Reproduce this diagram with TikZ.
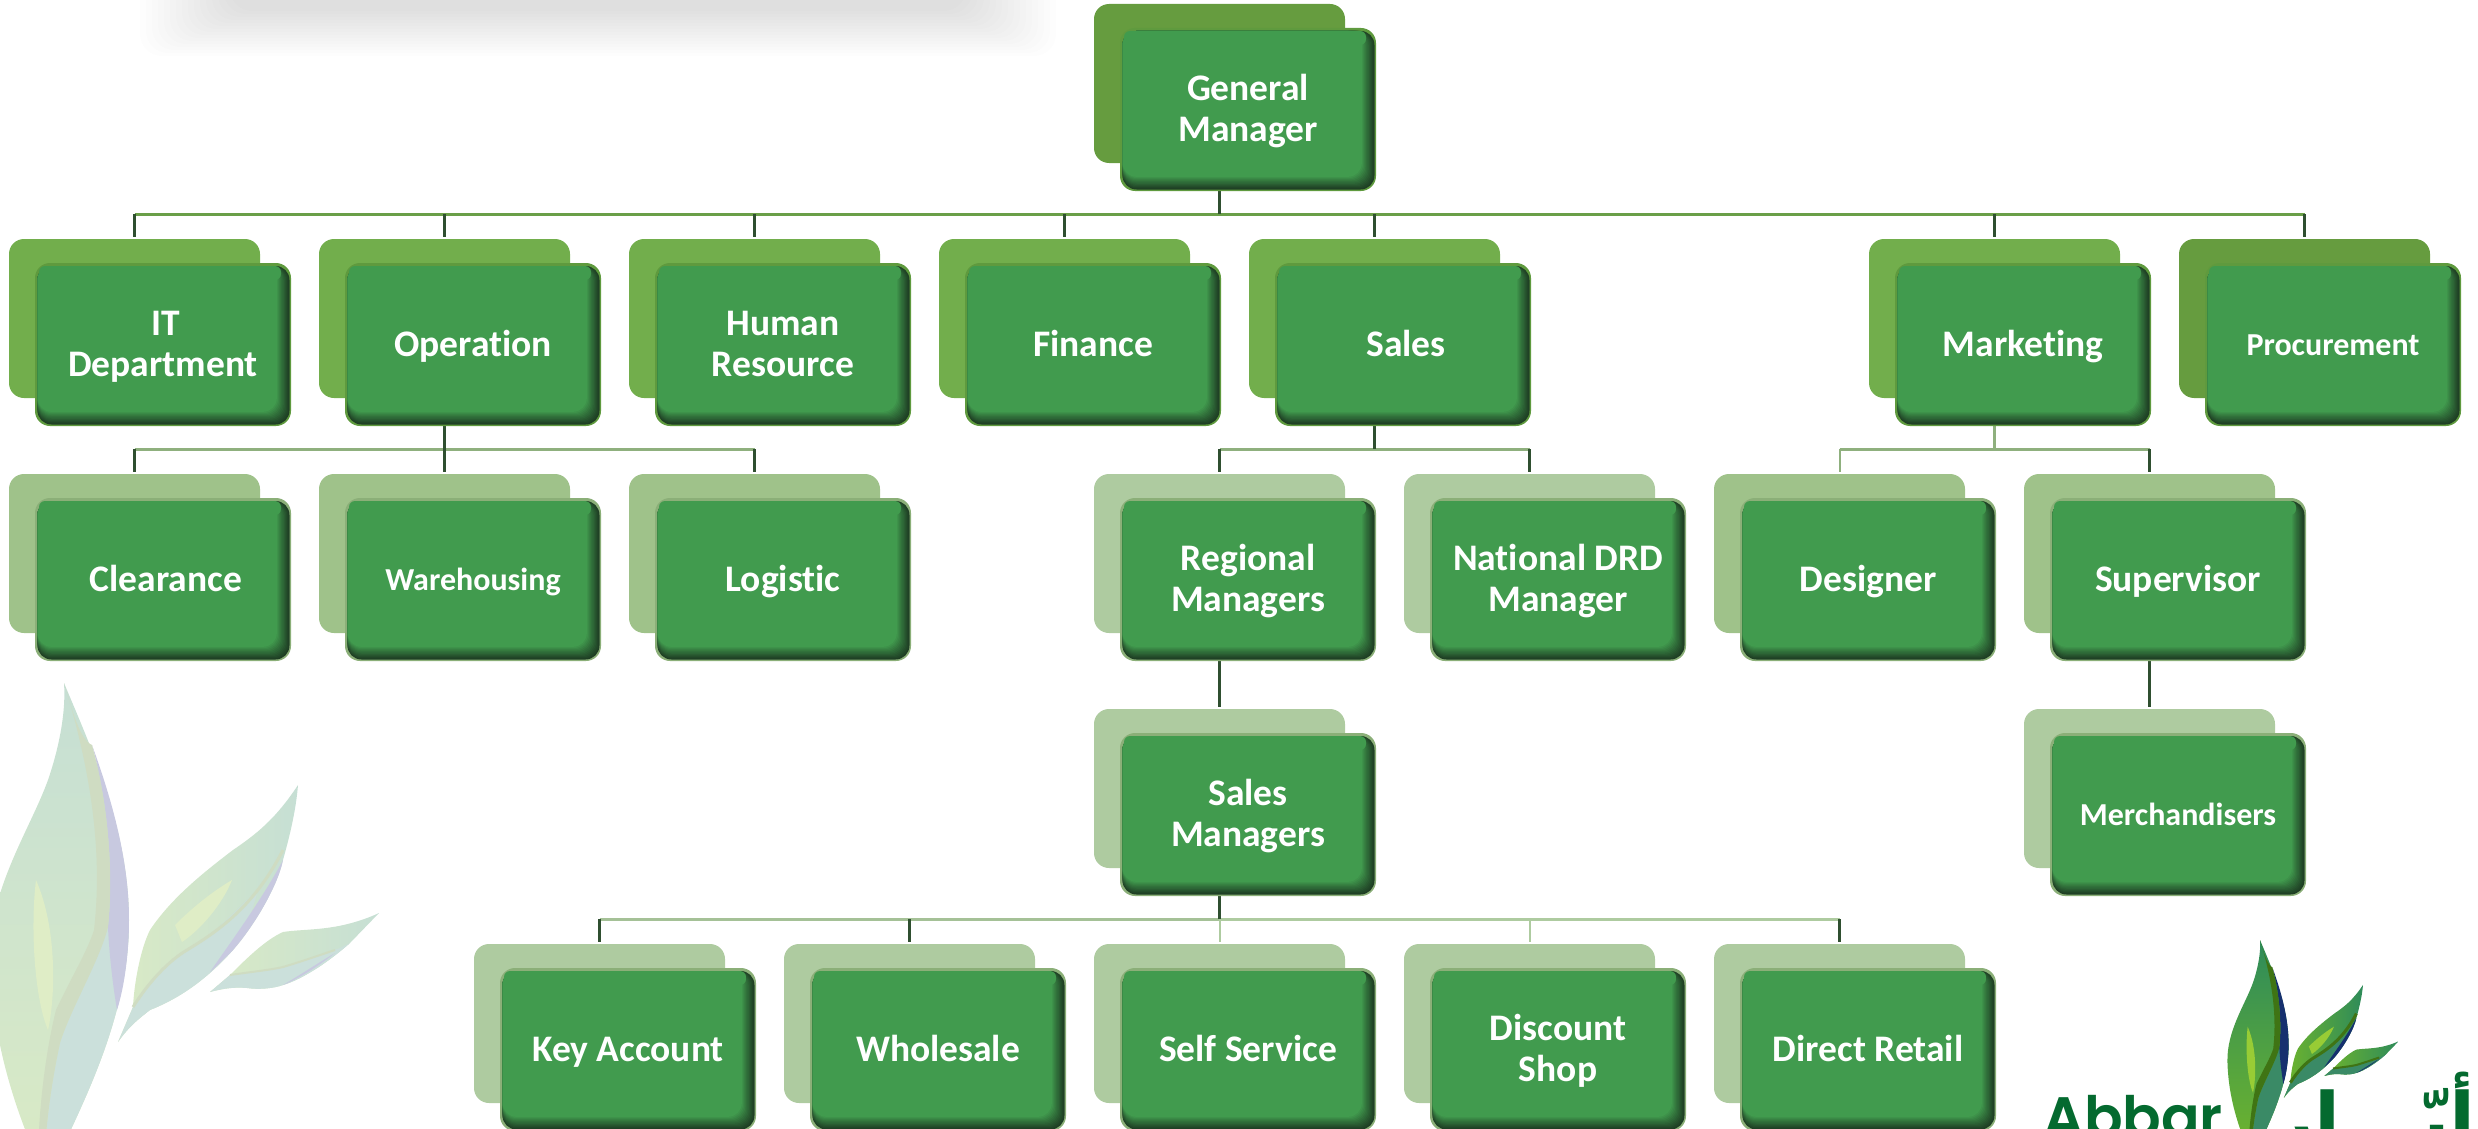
\documentclass[tikz,border=0pt]{standalone}
\usepackage{fontspec}
\setmainfont{Carlito}[Ligatures={NoCommon}]
\newfontfamily\logofont{Poppins}[UprightFont=* SemiBold,BoldFont=* SemiBold]
\newfontfamily\arabicfont[Script=Arabic]{DejaVu Sans}
\TeXXeTstate=1
\usetikzlibrary{backgrounds}
\definecolor{backA}{HTML}{669C3F}
\definecolor{backB}{HTML}{72AE4C}
\definecolor{backC}{HTML}{9FC28A}
\definecolor{backD}{HTML}{AECBA0}
\definecolor{rimA}{HTML}{5F9A3E}
\definecolor{rimB}{HTML}{8BAF78}
\definecolor{bevelbase}{HTML}{419B4E}
\definecolor{beveldark}{HTML}{1F3F24}
\definecolor{hilite}{HTML}{7AD68A}
\definecolor{hbusA}{HTML}{6A9F48}
\definecolor{hbusB}{HTML}{8FB07E}
\definecolor{hbusC}{HTML}{A5C197}
\definecolor{hbusD}{HTML}{AECBA0}
\definecolor{vdark}{HTML}{2F4F30}
\definecolor{logogreen}{HTML}{046A2F}
\newcommand{\fbig}{\fontsize{37.5}{41}\selectfont\bfseries}
\newcommand{\fsmall}{\fontsize{32}{38}\selectfont\bfseries}
\tikzset{
  x=1pt,y=-1pt,
  backbox/.style={anchor=north west,minimum width=251pt,minimum height=159pt,rounded corners=15pt,inner sep=0pt,outer sep=0pt,draw=none},
  frontbox/.style={anchor=north west,minimum width=256pt,minimum height=163pt,text=white,align=center,inner sep=0pt,outer sep=0pt,yshift=-3.5pt},
  hbus/.style={draw=#1,line width=3pt,line cap=butt},
  drop/.style={draw=vdark,line width=2.2pt,shorten >=2pt},
  lightdrop/.style={draw=#1,line width=2pt,shorten >=2pt},
}
\newcommand{\orgbox}[7]{%
  \node[backbox,fill=#4] (#1b) at (#2-26,#3-24) {};
  \fill[#5,rounded corners=15pt] (#2,#3) rectangle (#2+256,#3+163);
  \foreach \i in {0,...,11}{%
    \pgfmathsetmacro{\d}{1.5+\i*1.15}%
    \pgfmathsetmacro{\p}{100*(\i/11)^1.1}%
    \fill[bevelbase!\p!beveldark,rounded corners=14pt] (#2+2.5,#3+3) rectangle (#2+256-\d,#3+163-\d);
  }
  \shade[top color=bevelbase,middle color=hilite,bottom color=bevelbase,rounded corners=6pt] (#2+4,#3+3) rectangle (#2+256-10,#3+17);
  \node[frontbox,font=#6] (#1) at (#2,#3) {\strut #7\strut};
}
\newcommand{\leafset}{%
  % large leaf
  \shade[top color=lfTop,middle color=lfBase,bottom color=lfBase]
    (64,683) .. controls (66,710) and (60,745) .. (48,780) .. controls (30,830) and (-12,890) .. (-10,960)
    .. controls (-8,1040) and (15,1110) .. (40,1165) -- (54,1165)
    .. controls (90,1090) and (129,1010) .. (129,920) .. controls (129,830) and (90,745) .. (64,683) -- cycle;
  \fill[lfHi] (36,880) .. controls (30,930) and (35,1000) .. (48,1030) .. controls (55,1000) and (58,930) .. (36,880) -- cycle;
  \fill[lfLow] (107,927) .. controls (100,960) and (70,1010) .. (60,1043) .. controls (52,1080) and (46,1120) .. (44,1165)
    -- (54,1165) .. controls (90,1090) and (129,1010) .. (129,920) -- cycle;
  \fill[lfSliver] (92,745) .. controls (112,800) and (129,860) .. (129,920) .. controls (129,950) and (125,985) .. (117,1010)
    .. controls (112,980) and (109,950) .. (108,927) .. controls (113,880) and (110,810) .. (92,745) -- cycle;
  \fill[lfFold] (64,683) .. controls (72,710) and (80,740) .. (92,745) .. controls (110,810) and (113,880) .. (108,927)
    .. controls (100,960) and (70,1010) .. (60,1043) .. controls (52,1080) and (46,1120) .. (44,1165) -- (38,1165)
    .. controls (38,1110) and (46,1050) .. (56,1010) .. controls (70,980) and (88,950) .. (94,930)
    .. controls (102,860) and (94,780) .. (64,683) -- cycle;
  % middle leaf
  \shade[left color=lfBase,right color=lfTop]
    (298,785) .. controls (275,820) and (255,835) .. (233,850) .. controls (200,875) and (170,900) .. (150,930)
    .. controls (140,950) and (134,985) .. (133,1007) -- (118,1042) .. controls (130,1025) and (140,1018) .. (150,1010)
    .. controls (170,1002) and (200,987) .. (233,950) .. controls (255,925) and (278,885) .. (283,860) .. controls (290,835) and (296,810) .. (298,785) -- cycle;
  \fill[lfHi] (175,925) .. controls (195,905) and (215,890) .. (232,880) .. controls (222,905) and (200,930) .. (182,942) -- cycle;
  \fill[lfLow] (133,1007) .. controls (150,980) and (170,960) .. (187,950) .. controls (215,935) and (240,905) .. (258,890)
    .. controls (250,920) and (240,940) .. (233,950) .. controls (200,987) and (170,1002) .. (150,1010) .. controls (140,1018) and (130,1025) .. (118,1042) -- cycle;
  \fill[lfSliver] (283,860) .. controls (278,885) and (255,925) .. (233,950) .. controls (225,958) and (218,965) .. (210,972)
    .. controls (225,950) and (262,900) .. (283,860) -- cycle;
  \draw[lfFold,line width=3pt] (133,1007) .. controls (150,980) and (170,960) .. (187,950) .. controls (220,930) and (255,905) .. (283,850);
  % small leaf
  \shade[left color=lfBase,right color=lfTop]
    (379,913) .. controls (360,922) and (340,926) .. (333,927) .. controls (315,930) and (295,930) .. (283,932)
    .. controls (265,940) and (245,960) .. (230,975) -- (210,992) .. controls (225,988) and (235,987) .. (247,988)
    .. controls (260,990) and (275,988) .. (283,985) .. controls (300,980) and (325,965) .. (350,943) -- cycle;
  \fill[lfLow] (230,975) .. controls (250,972) and (270,970) .. (283,967) .. controls (300,962) and (320,955) .. (340,948)
    -- (350,943) .. controls (325,965) and (300,980) .. (283,985) .. controls (275,988) and (260,990) .. (247,988) .. controls (235,987) and (225,988) .. (210,992) -- cycle;
  \fill[lfSliver] (335,953) .. controls (320,965) and (300,978) .. (283,985) .. controls (300,975) and (315,965) .. (335,953) -- cycle;
  \draw[lfFold,line width=2pt] (230,975) .. controls (250,972) and (270,970) .. (283,967) .. controls (300,962) and (320,955) .. (335,950);
}
\begin{document}
\begin{tikzpicture}
\clip (0,0) rectangle (2478,1129);
% soft smear at the top
\foreach \i in {0,...,15}{%
  \fill[black,opacity=.007,rounded corners=22pt] (140+\i*6,-40) rectangle (1056-\i*6,56-\i*3);
}
% faded leaves
\definecolor{lfTop}{HTML}{C6DFD4}
\definecolor{lfBase}{HTML}{D9EAC5}
\definecolor{lfHi}{HTML}{DFEDC6}
\definecolor{lfLow}{HTML}{CBE0DB}
\definecolor{lfSliver}{HTML}{C8C9E0}
\definecolor{lfFold}{HTML}{CFDCC2}
\leafset
% logo leaves
\begin{scope}[shift={(2231.84,639.5)},scale=.44]
\definecolor{lfTop}{HTML}{2E8B5A}
\definecolor{lfBase}{HTML}{6FB52C}
\definecolor{lfHi}{HTML}{98CC35}
\definecolor{lfLow}{HTML}{3A8A66}
\definecolor{lfSliver}{HTML}{16306F}
\definecolor{lfFold}{HTML}{3F7414}
\leafset
\end{scope}
\node[anchor=base west,inner sep=0pt,text=logogreen,font=\fontsize{57}{57}\selectfont\logofont] (logoen) at (2043,1137) {Abbar};
\node[anchor=base east,inner sep=0pt,text=logogreen,font=\fontsize{76}{76}\selectfont\arabicfont\bfseries] (logoar) at (2476,1147) {\beginR أبّـــار\endR};
% boxes
\orgbox{gm}{1120}{28}{backA}{rimA}{\fbig}{General\\Manager}
\orgbox{it}{35}{263}{backB}{rimA}{\fbig}{\kern5pt IT\\Department}
\orgbox{op}{345}{263}{backB}{rimA}{\fbig}{Operation}
\orgbox{hr}{655}{263}{backB}{rimA}{\fbig}{Human\\Resource}
\orgbox{fi}{965}{263}{backB}{rimA}{\fbig}{Finance}
\orgbox{sa}{1275}{263}{backB}{rimA}{\fbig}{\kern6pt Sales}
\orgbox{ma}{1895}{263}{backB}{rimA}{\fbig}{Marketing}
\orgbox{pr}{2205}{263}{backA}{rimA}{\fsmall}{Procurement}
\orgbox{cl}{35}{498}{backC}{rimB}{\fbig}{\kern6pt Clearance}
\orgbox{wa}{345}{498}{backC}{rimB}{\fsmall}{Warehousing}
\orgbox{lo}{655}{498}{backC}{rimB}{\fbig}{Logistic}
\orgbox{re}{1120}{498}{backD}{rimB}{\fbig}{Regional\\Managers}
\orgbox{na}{1430}{498}{backD}{rimB}{\fbig}{National DRD\\Manager}
\orgbox{de}{1740}{498}{backC}{rimB}{\fbig}{Designer}
\orgbox{su}{2050}{498}{backC}{rimB}{\fbig}{Supervisor}
\orgbox{sm}{1120}{733}{backD}{rimB}{\fbig}{Sales\\Managers}
\orgbox{me}{2050}{733}{backD}{rimB}{\fsmall}{Merchandisers}
\orgbox{ka}{500}{968}{backD}{rimB}{\fbig}{Key Account}
\orgbox{wh}{810}{968}{backD}{rimB}{\fbig}{Wholesale}
\orgbox{ss}{1120}{968}{backD}{rimB}{\fbig}{Self Service}
\orgbox{ds}{1430}{968}{backD}{rimB}{\fbig}{Discount\\Shop}
\orgbox{dr}{1740}{968}{backD}{rimB}{\fbig}{Direct Retail}
% connectors
\coordinate (busgm) at (1219.5,214);
\coordinate (busop) at (444.5,449);
\coordinate (bussa) at (1374.5,449);
\coordinate (busma) at (1994.5,449);
\coordinate (bussm) at (1219.5,919);
\begin{scope}[on background layer]
  \draw[hbus=hbusA] (itb.north |- busgm) -- (prb.north |- busgm);
  \draw[drop,shorten >=0pt] (gmb) -- (busgm);
  \foreach \c in {it,op,hr,fi,sa,ma,pr}{\draw[drop] (\c b.north |- busgm) -- (\c b.north);}
  \draw[hbus=hbusB] (clb.north |- busop) -- (lob.north |- busop);
  \draw[drop,shorten >=0pt] (opb) -- (busop);
  \foreach \c in {cl,wa,lo}{\draw[drop] (\c b.north |- busop) -- (\c b.north);}
  \draw[hbus=hbusB] (reb.north |- bussa) -- (nab.north |- bussa);
  \draw[drop,shorten >=0pt] (sab) -- (bussa);
  \foreach \c in {re,na}{\draw[drop] (\c b.north |- bussa) -- (\c b.north);}
  \draw[hbus=hbusB] (deb.north |- busma) -- (sub.north |- busma);
  \draw[lightdrop=hbusB,shorten >=0pt,line width=3pt] (mab) -- (busma);
  \draw[lightdrop=hbusB] (deb.north |- busma) -- (deb.north);
  \draw[drop] (sub.north |- busma) -- (sub.north);
  \draw[drop] (reb) -- (smb.north);
  \draw[drop] (sub) -- (meb.north);
  \draw[hbus=hbusC] (kab.north |- bussm) -- (bussm);
  \draw[hbus=hbusD] (bussm) -- (drb.north |- bussm);
  \draw[drop,shorten >=0pt] (smb) -- (bussm);
  \foreach \c in {ka,wh,dr}{\draw[drop] (\c b.north |- bussm) -- (\c b.north);}
  \foreach \c in {ss,ds}{\draw[lightdrop=hbusD] (\c b.north |- bussm) -- (\c b.north);}
\end{scope}
\end{tikzpicture}
\end{document}
